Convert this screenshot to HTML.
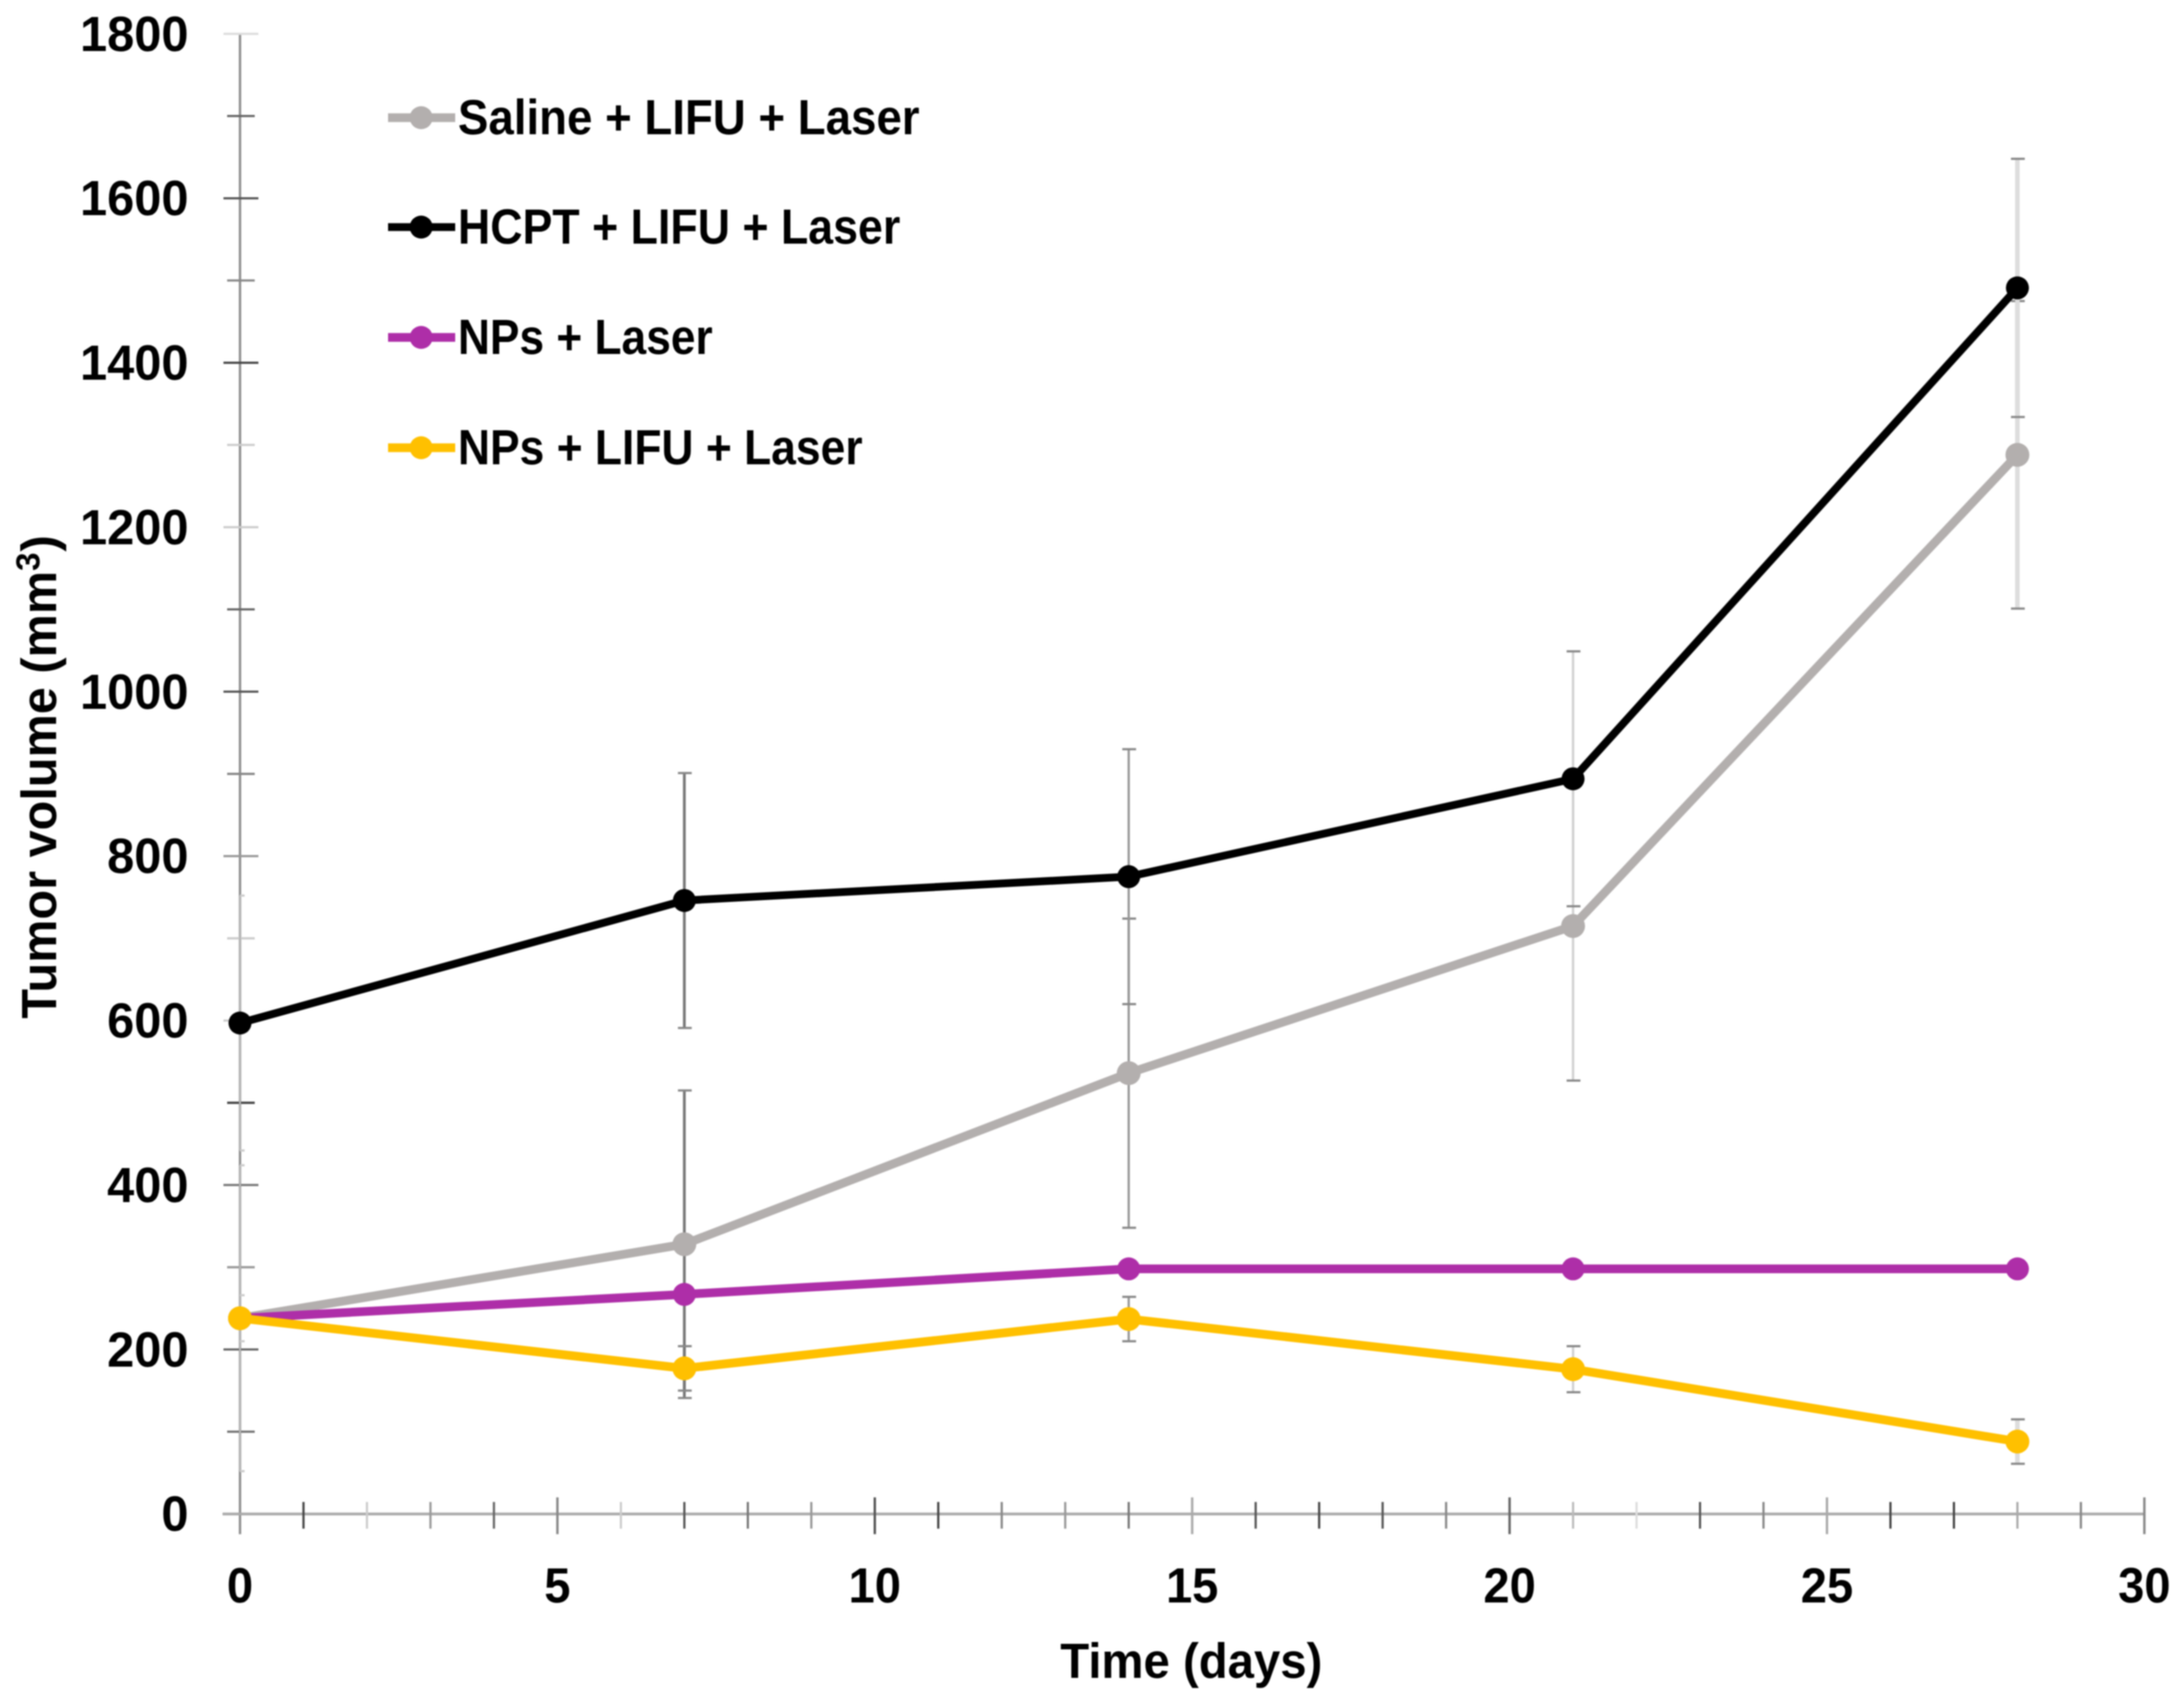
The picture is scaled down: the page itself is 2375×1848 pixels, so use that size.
<!DOCTYPE html>
<html lang="en">
<head>
<meta charset="utf-8">
<title>Tumor volume over time</title>
<style>
html,body{margin:0;padding:0;background:#fff;}
body{width:2375px;height:1848px;overflow:hidden;}
#chart{display:block;filter:blur(0.8px);}
text{font-family:"Liberation Sans",sans-serif;font-weight:bold;fill:#000;}
</style>
</head>
<body>
<svg id="chart" width="2375" height="1848" viewBox="0 0 2375 1848" xmlns="http://www.w3.org/2000/svg">
  <g id="axes"></g>
  <g id="errors"></g>
  <g id="series"></g>
  <g id="legend"></g>
  <text x="1153" y="1825" font-size="54" textLength="285" lengthAdjust="spacingAndGlyphs">Time (days)</text>
  <g>
    <text transform="translate(61,1108) rotate(-90)" font-size="54" textLength="487" lengthAdjust="spacingAndGlyphs">Tumor volume (mm</text>
    <text transform="translate(43,621) rotate(-90)" font-size="36">3</text>
    <text transform="translate(61,600) rotate(-90)" font-size="54" textLength="18" lengthAdjust="spacingAndGlyphs">)</text>
  </g>
</svg>
<script>
// ---- chart data ----
const days = [0, 7, 14, 21, 28];
const salineValues = [238, 328, 536, 715, 1288];
const hcptValues = [597, 746, 775, 894, 1491];
const npsLaserValues = [238, 267, 298, 298, 298];
const npsLifuValues = [238, 177, 237, 176, 88];
const salineErrors = [186, 187, 188, 188, 187];
const hcptErrors = [155, 155, 155, 155, 157];
const npsLifuErrors = [28, 27, 27, 28, 27];
const seriesNames = ["Saline + LIFU + Laser", "HCPT + LIFU + Laser", "NPs + Laser", "NPs + LIFU + Laser"];
const xTickLabels = [0, 5, 10, 15, 20, 25, 30];
const yTickLabels = [0, 200, 400, 600, 800, 1000, 1200, 1400, 1600, 1800];

// ---- presentation ----
const xTones = ["#888","#444","#ccc","#999","#666","#888","#ccc","#555","#777","#999","#555","#444","#888","#999","#777","#aaa","#555","#444","#555","#888","#666","#bbb","#ddd","#555","#888","#aaa","#444","#444","#aaa","#888","#888"];
const yTones = ["#999","#777","#666","#999","#777","#444","#ccc","#ccc","#999","#888","#555","#666","#ccc","#ccc","#444","#888","#555","#666","#ddd"];
const errorStyles = [
  {color:"#b5b5b5", width:2},
  {color:"#777", width:3},
  {color:"#999", width:2.5},
  {color:"#d0d0d0", width:2.5},
  {color:"#ddd", width:5}
];
const SVG_NS = "http://www.w3.org/2000/svg";
const X0 = 261, X_PER_DAY = 69.03;
const Y0 = 1646.7, Y_PER_UNIT = 0.8944;
function xScale(d){ return X0 + d * X_PER_DAY; }
function yScale(v){ return Y0 - v * Y_PER_UNIT; }
function make(tag, attrs, parent){
  const el = document.createElementNS(SVG_NS, tag);
  for (const k in attrs) el.setAttribute(k, attrs[k]);
  parent.appendChild(el);
  return el;
}
const axesG = document.getElementById("axes");
const errorsG = document.getElementById("errors");
const seriesG = document.getElementById("series");
const legendG = document.getElementById("legend");

// Axis lines
const yAxisLine = make("line", {x1:X0, x2:X0, y1:yScale(1800), y2:Y0 + 22, stroke:"#8f8f8f", "stroke-width":2.6}, axesG);


const xAxisLine = make("line", {x1:X0 - 19, x2:xScale(30), y1:Y0, y2:Y0, stroke:"#aaa", "stroke-width":3}, axesG);



// X ticks
for (let d = 1; d <= 30; d++) {
  const major = d % 5 === 0;
  const tick = make("line", {x1:xScale(d), x2:xScale(d), y1:Y0 - (major ? 18 : 13), y2:Y0 + (major ? 22 : 16), stroke:xTones[d], "stroke-width":major ? 2.6 : 2.4}, axesG);
  
  
}
// Y ticks
for (let i = 1; i <= 18; i++) {
  const major = i % 2 === 0;
  const y = yScale(i * 100);
  const tick = make("line", {x1:X0 - (major ? 18 : 14), x2:X0 + (major ? 20 : 16), y1:y, y2:y, stroke:yTones[i], "stroke-width":2.4}, axesG);
  
  
}
// X tick labels
xTickLabels.forEach(function(v){
  const t = make("text", {x:xScale(v), y:1743, "font-size":54, "text-anchor":"middle", textLength:String(v).length * 28.5, lengthAdjust:"spacingAndGlyphs"}, axesG);
  
  
  t.textContent = v;
});
// Y tick labels
yTickLabels.forEach(function(v){
  const t = make("text", {x:205, y:yScale(v) + 18.5, "font-size":54, "text-anchor":"end", textLength:String(v).length * 29.5, lengthAdjust:"spacingAndGlyphs"}, axesG);
  
  
  t.textContent = v;
});

// Error bars
function drawErrors(values, errors, name){
  days.forEach(function(d, i){
    const st = errorStyles[i];
    const x = xScale(d);
    const hi = yScale(values[i] + errors[i]);
    const lo = yScale(values[i] - errors[i]);
    const stem = make("line", {x1:x, x2:x, y1:hi, y2:lo, stroke:st.color, "stroke-width":st.width}, errorsG);
    
    
    [hi, lo].forEach(function(y){
      const cap = make("line", {x1:i === 0 ? x : x - 7, x2:i === 0 ? x + 5 : x + 8, y1:y, y2:y, stroke:i === 0 ? "#ccc" : "#888", "stroke-width":2.4}, errorsG);
      
      
    });
  });
}
drawErrors(salineValues, salineErrors, "saline");
drawErrors(hcptValues, hcptErrors, "hcpt");
drawErrors(npsLifuValues, npsLifuErrors, "nps-lifu");

// Series
function drawSeries(values, color, width, r, name){
  const pts = days.map(function(d, i){ return xScale(d) + "," + yScale(values[i]); }).join(" ");
  const line = make("polyline", {points:pts, fill:"none", stroke:color, "stroke-width":width, "stroke-linejoin":"round"}, seriesG);
  
  
  days.forEach(function(d, i){
    const c = make("circle", {cx:xScale(d), cy:yScale(values[i]), r:r, fill:color}, seriesG);
    
    
  });
}
drawSeries(salineValues, "#b3afae", 9.5, 13, "saline");
drawSeries(hcptValues, "#000000", 8.5, 12.5, "hcpt");
drawSeries(npsLaserValues, "#ae2ea8", 9.5, 12.5, "nps-laser");
drawSeries(npsLifuValues, "#ffc000", 9.5, 13, "nps-lifu");

// Legend
const legendColors = ["#b3afae", "#000000", "#ae2ea8", "#ffc000"];
const legendWidths = [9.5, 8.5, 9.5, 9.5];
const legendLineY = [128, 247, 367, 487];
const legendTextLengths = [502, 481, 277, 440];
seriesNames.forEach(function(label, i){
  const y = legendLineY[i];
  const ln = make("line", {x1:422, x2:495, y1:y, y2:y, stroke:legendColors[i], "stroke-width":legendWidths[i]}, legendG);
  
  
  const mk = make("circle", {cx:458, cy:y, r:12.5, fill:legendColors[i]}, legendG);
  
  
  const tx = make("text", {x:498, y:y + 18, "font-size":54, textLength:legendTextLengths[i], lengthAdjust:"spacingAndGlyphs"}, legendG);
  
  
  tx.textContent = label;
});
</script>
</body>
</html>
